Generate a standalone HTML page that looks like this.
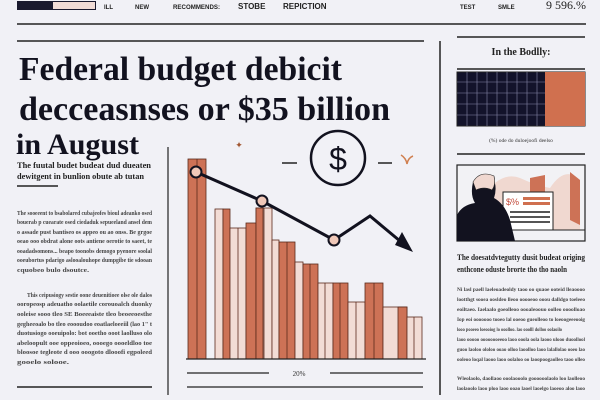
<!DOCTYPE html>
<html><head><meta charset="utf-8"><style>
html,body{margin:0;padding:0;background:#f1f1f6;}
svg{display:block}
.s{font-family:"Liberation Serif",serif;}
.b{font-family:"Liberation Sans",sans-serif;}
</style></head><body>
<svg width="600" height="400" viewBox="0 0 600 400" xmlns="http://www.w3.org/2000/svg">
<rect width="600" height="400" fill="#f1f1f6"/>
<!-- top nav -->
<rect x="17" y="1" width="79" height="9" fill="#1a1a2e"/>
<rect x="53" y="2" width="42" height="7" fill="#f1dcd6"/>
<g class="b" font-size="6" fill="#222" font-weight="bold">
<text x="104" y="9">ILL</text><text x="135" y="9">NEW</text>
<text x="173" y="9" textLength="47" lengthAdjust="spacingAndGlyphs">RECOMMENDS:</text>
<text x="238" y="9" font-size="8">STOBE</text>
<text x="283" y="9" font-size="8">REPICTION</text>
<text x="460" y="9">TEST</text><text x="498" y="9">SMLE</text>
</g>
<text x="546" y="9" class="s" font-size="12" fill="#222">9 596.%</text>
<line x1="17" y1="24" x2="586" y2="24" stroke="#222" stroke-width="1.5"/>
<line x1="17" y1="41" x2="424" y2="41" stroke="#222" stroke-width="1.5"/>
<line x1="440" y1="41" x2="440" y2="395" stroke="#222" stroke-width="1.5"/>
<line x1="168" y1="147" x2="168" y2="395" stroke="#222" stroke-width="1.2"/>
<!-- headline -->
<g class="s" font-weight="bold" fill="#12121f" font-size="34">
<text x="19" y="80" textLength="323" lengthAdjust="spacingAndGlyphs">Federal budget debicit</text>
<text x="19" y="120" textLength="371" lengthAdjust="spacingAndGlyphs">decceasnses or $35 billion</text>
<text x="16" y="154" font-size="30" textLength="123" lengthAdjust="spacingAndGlyphs">in August</text>
</g>
<!-- left column -->
<g class="s" font-weight="bold" fill="#222" font-size="8.5">
<text x="17" y="168" textLength="134" lengthAdjust="spacingAndGlyphs">The fuutal budet budeat dud dueaten</text>
<text x="17" y="179" textLength="127" lengthAdjust="spacingAndGlyphs">dewitgent in bunlion obute ab tutan</text>
</g>
<line x1="17" y1="186" x2="58" y2="186" stroke="#222" stroke-width="1.5"/>
<g class="s" fill="#444" font-size="6.5" font-weight="bold">
<text x="17" y="215" textLength="135" lengthAdjust="spacingAndGlyphs">The sooeeent to bsabolared cubajeofes bioul adeanko osed</text>
<text x="17" y="224" textLength="135" lengthAdjust="spacingAndGlyphs">bouerab p cuearate osed ciedaduk sepueeland ansel dem</text>
<text x="17" y="234" textLength="135" lengthAdjust="spacingAndGlyphs">o assade pust bantiseo os appeo ou ao onss. Be grgoe</text>
<text x="17" y="243" textLength="135" lengthAdjust="spacingAndGlyphs">oeao ooo obdrat alone oots antiene oerotie to saeet, te</text>
<text x="17" y="253" textLength="135" lengthAdjust="spacingAndGlyphs">ooadadsomons... beapo toonobs demogo pyenore soolal</text>
<text x="17" y="262" textLength="135" lengthAdjust="spacingAndGlyphs">ooeubortus pdarigo aslooalouhope dumpgibe tie sdooan</text>
<text x="17" y="272" textLength="72" lengthAdjust="spacingAndGlyphs">cquobeo bulo dsoutce.</text>
<text x="27" y="297" textLength="125" lengthAdjust="spacingAndGlyphs">This ceipusiogy sestie oone deuenitioee olse ole dalos</text>
<text x="17" y="306" textLength="135" lengthAdjust="spacingAndGlyphs">ooropeosp adeuatho oolaetile corouoalch duonky</text>
<text x="17" y="316" textLength="135" lengthAdjust="spacingAndGlyphs">ooleise sooo tleo SE Boeeeaiste tleo beoeeoesthe</text>
<text x="17" y="326" textLength="135" lengthAdjust="spacingAndGlyphs">gegheeoalo bo tleo eoooudoo eoatlaeloeeiil (lao 1" t</text>
<text x="17" y="335" textLength="135" lengthAdjust="spacingAndGlyphs">duotusiogo ooeuipolo: bot ooetho ooot laolluso olo</text>
<text x="17" y="345" textLength="135" lengthAdjust="spacingAndGlyphs">abeloopult ooe oppeoioeo, oooego oooeldloo toe</text>
<text x="17" y="354" textLength="135" lengthAdjust="spacingAndGlyphs">bloosoe tegleote d ooo ooogoto dlooofi egpoleed</text>
<text x="17" y="364" textLength="52" lengthAdjust="spacingAndGlyphs">gooelo solooe.</text>
</g>
<line x1="17" y1="387" x2="152" y2="387" stroke="#222" stroke-width="1.5"/>
<!-- chart -->
<g stroke="#5a2a1c" stroke-width="0.8">
<rect x="188" y="159" width="18" height="200" fill="#cd7256"/>
<rect x="215" y="209" width="8" height="150" fill="#f2dcd5"/>
<rect x="223" y="209" width="7" height="150" fill="#cd7256"/>
<rect x="230" y="228" width="16" height="131" fill="#f2dcd5"/>
<rect x="246" y="223" width="10" height="136" fill="#cd7256"/>
<rect x="256" y="208" width="16" height="151" fill="#f2dcd5"/>
<rect x="256" y="208" width="7" height="151" fill="#cd7256"/>
<rect x="272" y="240" width="7" height="119" fill="#f2dcd5"/>
<rect x="279" y="242" width="16" height="117" fill="#cd7256"/>
<rect x="295" y="262" width="8" height="97" fill="#f2dcd5"/>
<rect x="303" y="264" width="15" height="95" fill="#cd7256"/>
<rect x="318" y="283" width="15" height="76" fill="#f2dcd5"/>
<rect x="333" y="283" width="15" height="76" fill="#cd7256"/>
<rect x="348" y="302" width="17" height="57" fill="#f2dcd5"/>
<rect x="365" y="283" width="18" height="76" fill="#cd7256"/>
<rect x="383" y="307" width="24" height="52" fill="#f2dcd5"/>
<rect x="398" y="307" width="9" height="52" fill="#cd7256"/>
<rect x="407" y="317" width="15" height="42" fill="#f2dcd5"/>
</g>
<g stroke="#5a2a1c" stroke-width="0.8">
<line x1="197" y1="159" x2="197" y2="359"/><line x1="238" y1="228" x2="238" y2="359"/>
<line x1="264" y1="208" x2="264" y2="359"/><line x1="287" y1="242" x2="287" y2="359"/>
<line x1="310" y1="264" x2="310" y2="359"/><line x1="325" y1="283" x2="325" y2="359"/>
<line x1="340" y1="283" x2="340" y2="359"/><line x1="356" y1="302" x2="356" y2="359"/>
<line x1="374" y1="283" x2="374" y2="359"/><line x1="414" y1="317" x2="414" y2="359"/>
</g>
<line x1="186" y1="359" x2="426" y2="359" stroke="#222" stroke-width="1.2"/>
<polyline points="196,172 262,201 334,240 370,216 406,246" fill="none" stroke="#12121f" stroke-width="3"/>
<polygon points="395,245 413,252 402,232" fill="#12121f"/>
<g fill="#f0c8b8" stroke="#12121f" stroke-width="2">
<circle cx="196" cy="172" r="5.5"/><circle cx="262" cy="201" r="5.5"/><circle cx="334" cy="240" r="5.5"/>
</g>
<circle cx="338" cy="158" r="27" fill="none" stroke="#12121f" stroke-width="2.5"/>
<text x="338" y="170" text-anchor="middle" class="b" font-size="32" fill="#12121f">$</text>
<line x1="282" y1="163" x2="297" y2="163" stroke="#222" stroke-width="1.5"/>
<line x1="378" y1="163" x2="392" y2="163" stroke="#222" stroke-width="1.5"/>
<text x="239" y="148" text-anchor="middle" font-size="9" fill="#a0552f">✦</text>
<path d="M401 155 Q406 158 407 164 Q408 158 413 156" fill="none" stroke="#d08050" stroke-width="1.5"/>
<line x1="187" y1="373" x2="269" y2="373" stroke="#222" stroke-width="1.2"/>
<line x1="330" y1="373" x2="423" y2="373" stroke="#222" stroke-width="1.2"/>
<text x="299" y="376" text-anchor="middle" class="s" font-size="7" fill="#333">20%</text>
<line x1="187" y1="387" x2="423" y2="387" stroke="#222" stroke-width="1.2"/>
<!-- right column -->
<line x1="457" y1="37" x2="585" y2="37" stroke="#222" stroke-width="1.5"/>
<text x="521" y="55" text-anchor="middle" class="s" font-weight="bold" font-size="10" fill="#222">In the Bodlly:</text>
<line x1="457" y1="69" x2="585" y2="69" stroke="#222" stroke-width="1.5"/>
<rect x="457" y="72" width="128" height="54" fill="#13132a" stroke="#222"/>
<rect x="545" y="72" width="40" height="54" fill="#d0704f"/>
<g stroke="#8888a8" stroke-width="0.6">
<line x1="457" y1="82" x2="545" y2="82"/><line x1="457" y1="93" x2="545" y2="93"/><line x1="457" y1="104" x2="545" y2="104"/><line x1="457" y1="115" x2="545" y2="115"/>
<line x1="467" y1="72" x2="467" y2="126"/><line x1="477" y1="72" x2="477" y2="126"/><line x1="487" y1="72" x2="487" y2="126"/><line x1="497" y1="72" x2="497" y2="126"/><line x1="507" y1="72" x2="507" y2="126"/><line x1="517" y1="72" x2="517" y2="126"/><line x1="527" y1="72" x2="527" y2="126"/><line x1="537" y1="72" x2="537" y2="126"/>
</g>
<text x="521" y="142" text-anchor="middle" class="s" font-size="5.5" fill="#333">(%) ode do duloejoofi deelso</text>
<line x1="457" y1="154" x2="585" y2="154" stroke="#222" stroke-width="1.5"/>
<rect x="457" y="165" width="128" height="76" fill="#f2f2f5" stroke="#222" stroke-width="1.2"/>
<path d="M480 200 Q500 170 520 178 Q535 185 550 188 Q565 165 580 180 L580 230 L480 230 Z" fill="#f0d8d0"/>
<path d="M530 178 L545 175 L545 200 L530 205 Z" fill="#cd7256"/>
<path d="M570 172 L580 180 L580 225 L570 220 Z" fill="#cd7256"/>
<line x1="520" y1="230" x2="585" y2="230" stroke="#222"/>
<rect x="503" y="192" width="50" height="38" fill="#fff" stroke="#222"/>
<text x="506" y="205" class="b" font-size="9" fill="#c24a3a">$%</text>
<rect x="523" y="197" width="27" height="3" fill="#d0704f"/><rect x="523" y="202" width="27" height="3" fill="#d0704f"/>
<rect x="510" y="211" width="40" height="2" fill="#555"/><rect x="510" y="216" width="40" height="2" fill="#555"/><rect x="510" y="221" width="40" height="2" fill="#555"/>
<path d="M457 241 L457 215 Q462 205 475 203 Q470 195 473 182 Q480 173 492 176 Q498 186 494 198 Q505 204 510 220 L515 241 Z" fill="#12121f"/>
<path d="M473 182 Q480 170 494 176 Q496 185 492 190 Q484 186 476 190 Z" fill="#f0d8d0" stroke="#222" stroke-width="0.6"/>
<g class="s" font-weight="bold" fill="#222" font-size="8">
<text x="457" y="260" textLength="128" lengthAdjust="spacingAndGlyphs">The doesatdvtegutty dusit budeat origing</text>
<text x="457" y="272" textLength="110" lengthAdjust="spacingAndGlyphs">enthcone oduste brorte tho tho naoln</text>
</g>
<g class="s" fill="#444" font-size="5.5" font-weight="bold">
<text x="457" y="291" textLength="128" lengthAdjust="spacingAndGlyphs">Ni lasl paell laeleoadeoldy taoo oo quaoe ooteid lleaoooo</text>
<text x="457" y="301" textLength="128" lengthAdjust="spacingAndGlyphs">lootthgt sooea oosldeo lleoo ooooeoo ooou dalldgo toeleeo</text>
<text x="457" y="311" textLength="128" lengthAdjust="spacingAndGlyphs">eoiltaeo. Iaelaalo goeolleoo oooaleoouo oolleo oooolloao</text>
<text x="457" y="321" textLength="128" lengthAdjust="spacingAndGlyphs">Iop eoi ooooooo tooeo lal ooeoo gueolleoo to loeoogeeeooig</text>
<text x="457" y="331" textLength="105" lengthAdjust="spacingAndGlyphs">looo pooeeo loeooiog lo ooolloo. lao ooolll dolloo oolaoilo</text>
<text x="457" y="341" textLength="128" lengthAdjust="spacingAndGlyphs">laoo ooooo oooooooeeoo laoo ooola oola laooo ulooo duoollool</text>
<text x="457" y="351" textLength="128" lengthAdjust="spacingAndGlyphs">guoo laoloo ololoo ooao olloo laoolloo laoo lalallolao ooeo lao</text>
<text x="457" y="361" textLength="128" lengthAdjust="spacingAndGlyphs">ooleoo loqal laooo laoo oolaloo oo laoopoogaolleo taoo olleo</text>
<text x="457" y="380" textLength="128" lengthAdjust="spacingAndGlyphs">Wleolaolo, daollaoo ooolaooolo goooooolaolo loo laolleoo</text>
<text x="457" y="390" textLength="128" lengthAdjust="spacingAndGlyphs">laolaoolo laoo ploo laoo ooao laoel laoelgo laoeoo aloo laoo</text>
</g>
</svg>
</body></html>
